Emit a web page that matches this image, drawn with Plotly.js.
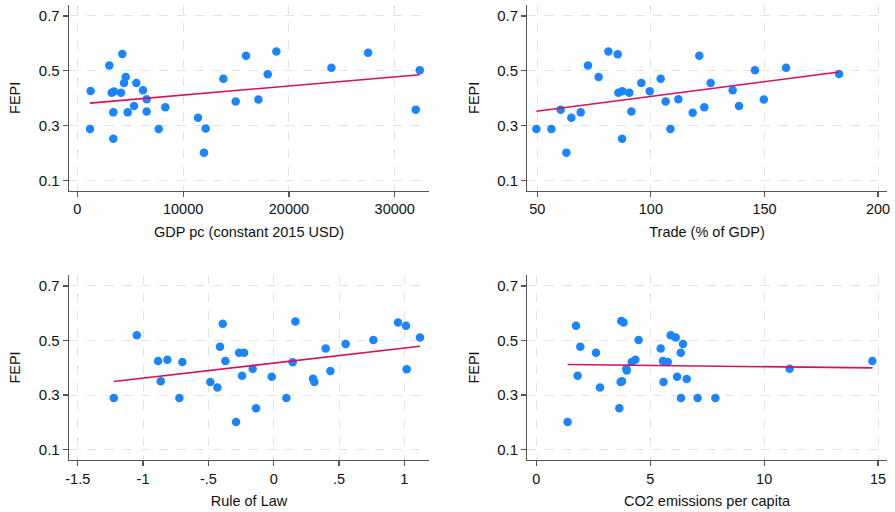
<!DOCTYPE html>
<html>
<head>
<meta charset="utf-8">
<script src="https://cdn.plot.ly/plotly-3.0.1.min.js"></script>
<style>html,body{margin:0;padding:0;background:#fff;}#chart{width:895px;height:512px;}</style>
</head>
<body>
<div id="chart"></div>
<script>
// Panel 1: GDP pc (constant 2015 USD)
const gdpX = [1260,1200,3025,4255,3246,3467,3404,3404,4129,4412,4570,4759,5358,5578,6209,6555,6555,7690,8320,11409,12133,11976,13804,14970,15947,17113,17996,18815,24015,27482,31989,32367];
const gdpY = [0.426,0.287,0.519,0.561,0.420,0.424,0.348,0.252,0.420,0.455,0.477,0.348,0.371,0.455,0.429,0.396,0.351,0.287,0.367,0.328,0.289,0.201,0.471,0.388,0.555,0.395,0.487,0.570,0.511,0.566,0.358,0.502];

// Panel 2: Trade (% of GDP)
const tradeX = [49.6,56.2,60.3,62.8,65.0,69.1,72.3,77.0,81.3,85.4,85.7,87.4,87.3,90.5,91.4,95.8,99.5,104.3,106.5,108.6,112.1,118.4,121.3,123.5,126.3,136.0,138.8,145.8,149.7,159.5,182.8];
const tradeY = [0.287,0.287,0.358,0.201,0.328,0.348,0.519,0.477,0.570,0.560,0.420,0.425,0.252,0.420,0.351,0.455,0.425,0.471,0.388,0.287,0.396,0.347,0.555,0.367,0.455,0.429,0.371,0.502,0.395,0.511,0.488];

// Panel 3: Rule of Law
const lawX = [-1.224,-1.048,-0.885,-0.814,-0.865,-0.699,-0.722,-0.485,-0.431,-0.411,-0.390,-0.370,-0.288,-0.265,-0.227,-0.242,-0.161,-0.135,-0.015,0.097,0.145,0.166,0.301,0.311,0.398,0.434,0.551,0.763,0.952,1.013,1.018,1.120];
const lawY = [0.289,0.519,0.425,0.429,0.351,0.421,0.289,0.348,0.328,0.477,0.561,0.425,0.201,0.455,0.455,0.371,0.396,0.252,0.367,0.289,0.420,0.570,0.360,0.348,0.471,0.388,0.487,0.502,0.566,0.554,0.395,0.511];

// Panel 4: CO2 emissions per capita
const co2X = [1.376,1.742,1.815,1.932,2.620,2.795,3.644,3.703,3.76,3.73,3.83,3.95,3.97,4.19,4.35,4.49,5.46,5.56,5.77,5.58,5.90,6.12,6.18,6.34,6.44,6.35,6.60,7.08,7.86,11.12,14.75];
const co2Y = [0.201,0.554,0.371,0.477,0.455,0.328,0.252,0.348,0.351,0.571,0.566,0.396,0.390,0.421,0.429,0.502,0.471,0.425,0.421,0.348,0.519,0.511,0.367,0.455,0.487,0.289,0.359,0.289,0.289,0.396,0.425];

const xTitles = ["GDP pc (constant 2015 USD)", "Trade (% of GDP)", "Rule of Law", "CO2 emissions per capita"];
const yTitle = "FEPI";
const yTicks = [0.1, 0.3, 0.5, 0.7];
const yTickText = ["0.1", "0.3", "0.5", "0.7"];
const gdpTicks = [0, 10000, 20000, 30000];
const gdpTickText = ["0", "10000", "20000", "30000"];
const tradeTicks = [50, 100, 150, 200];
const lawTicks = [-1.5, -1, -0.5, 0, 0.5, 1];
const lawTickText = ["-1.5", "-1", "-.5", "0", ".5", "1"];
const co2Ticks = [0, 5, 10, 15];

const dotColor = "#1a85ff";
const lineColor = "#d41159";
const axisColor = "#555555";
const gridColor = "#e3e3e3";
const FONT = "Liberation Sans, Arial, Helvetica, sans-serif";

function fit(xs, ys) {
  const n = xs.length;
  let mx = 0, my = 0;
  for (let i = 0; i < n; i++) { mx += xs[i]; my += ys[i]; }
  mx /= n; my /= n;
  let sxy = 0, sxx = 0;
  for (let i = 0; i < n; i++) { sxy += (xs[i]-mx)*(ys[i]-my); sxx += (xs[i]-mx)*(xs[i]-mx); }
  const b = sxy / sxx, a = my - b*mx;
  const x0 = Math.min(...xs), x1 = Math.max(...xs);
  return {x: [x0, x1], y: [a + b*x0, a + b*x1]};
}

const panels = [
  {x: gdpX, y: gdpY, xa: "x", ya: "y"},
  {x: tradeX, y: tradeY, xa: "x2", ya: "y2"},
  {x: lawX, y: lawY, xa: "x3", ya: "y3"},
  {x: co2X, y: co2Y, xa: "x4", ya: "y4"}
];

const traces = [];
panels.forEach(p => {
  traces.push({type: "scatter", mode: "markers", x: p.x, y: p.y, xaxis: p.xa, yaxis: p.ya,
    marker: {color: dotColor, size: 8.5, line: {width: 0}}, hoverinfo: "skip"});
  const f = fit(p.x, p.y);
  traces.push({type: "scatter", mode: "lines", x: f.x, y: f.y, xaxis: p.xa, yaxis: p.ya,
    line: {color: lineColor, width: 1.6}, hoverinfo: "skip"});
});

function xax(domain, range, tickvals, ticktext, title, anchor) {
  const o = {domain: domain, range: range, tickmode: "array", tickvals: tickvals,
    showline: true, linecolor: axisColor, linewidth: 1.3, ticks: "outside", ticklen: 5, tickwidth: 1.2, tickcolor: axisColor,
    showgrid: true, gridcolor: gridColor, griddash: "dash", gridwidth: 1, zeroline: false,
    tickfont: {family: FONT, size: 14.5, color: "#111"}, anchor: anchor,
    title: {text: title, font: {family: FONT, size: 14.5, color: "#111"}, standoff: 10}};
  if (ticktext) o.ticktext = ticktext;
  return o;
}
function yax(domain, anchor) {
  return {domain: domain, range: [0.062, 0.74], tickmode: "array", tickvals: yTicks, ticktext: yTickText,
    showline: true, linecolor: axisColor, linewidth: 1.3, ticks: "outside", ticklen: 5, tickwidth: 1.2, tickcolor: axisColor,
    showgrid: true, gridcolor: gridColor, griddash: "dash", gridwidth: 1, zeroline: false,
    tickfont: {family: FONT, size: 15, color: "#111"}, anchor: anchor,
    title: {text: yTitle, font: {family: FONT, size: 14.5, color: "#111"}, standoff: 14}};
}

const dxL = [69/895, 429/895];
const dxR = [527.3/895, 886.7/895];
const dyT = [1 - 190.7/512, 1 - 5/512];
const dyB = [1 - 460/512, 1 - 275/512];

const layout = {
  width: 895, height: 512, showlegend: false,
  paper_bgcolor: "#ffffff", plot_bgcolor: "#ffffff",
  margin: {l: 0, r: 0, t: 0, b: 0},
  xaxis: xax(dxL, [-785, 33240], gdpTicks, gdpTickText, xTitles[0], "y"),
  yaxis: yax(dyT, "x"),
  xaxis2: xax(dxR, [45.6, 203.8], tradeTicks, null, xTitles[1], "y2"),
  yaxis2: yax(dyT, "x2"),
  xaxis3: xax(dxL, [-1.567, 1.189], lawTicks, lawTickText, xTitles[2], "y3"),
  yaxis3: yax(dyB, "x3"),
  xaxis4: xax(dxR, [-0.395, 15.38], co2Ticks, null, xTitles[3], "y4"),
  yaxis4: yax(dyB, "x4")
};

Plotly.newPlot("chart", traces, layout, {staticPlot: true, displayModeBar: false});
</script>
</body>
</html>
